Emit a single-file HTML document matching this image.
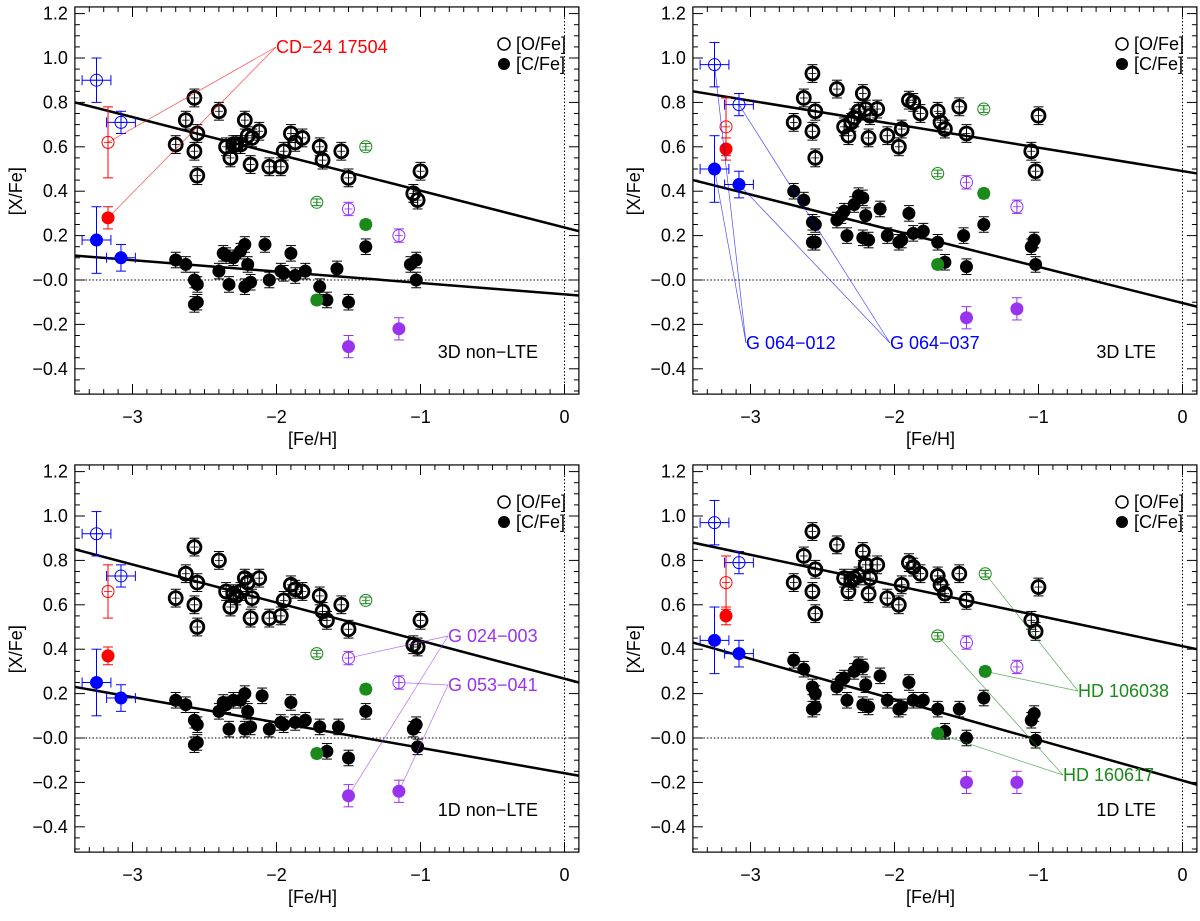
<!DOCTYPE html>
<html><head><meta charset="utf-8"><style>
body{margin:0;background:#fff}
svg text{font-family:"Liberation Sans",Arial,sans-serif}
</style></head><body>
<svg id="chart" width="1200" height="916" viewBox="0 0 1200 916" xmlns="http://www.w3.org/2000/svg"></svg>
<script>
// panel titles
const panelTitles = ["3D non-LTE","3D LTE","1D non-LTE","1D LTE"];
// O/Fe black stars [feh, value]
const oBlack = [
[[-2.70,0.61],[-2.63,0.72],[-2.57,0.82],[-2.57,0.58],[-2.55,0.47],[-2.55,0.66],[-2.40,0.76],[-2.35,0.60],[-2.32,0.55],[-2.30,0.61],[-2.28,0.61],[-2.25,0.61],[-2.22,0.72],[-2.20,0.65],[-2.18,0.52],[-2.17,0.64],[-2.12,0.67],[-2.05,0.51],[-1.97,0.51],[-1.95,0.58],[-1.90,0.66],[-1.87,0.62],[-1.82,0.64],[-1.70,0.60],[-1.68,0.54],[-1.55,0.58],[-1.50,0.46],[-1.05,0.39],[-1.02,0.36],[-1.00,0.49]],
[[-2.70,0.71],[-2.63,0.82],[-2.57,0.93],[-2.57,0.67],[-2.55,0.55],[-2.55,0.76],[-2.40,0.86],[-2.35,0.69],[-2.32,0.65],[-2.30,0.71],[-2.28,0.73],[-2.25,0.76],[-2.22,0.84],[-2.20,0.77],[-2.18,0.64],[-2.17,0.74],[-2.12,0.77],[-2.05,0.65],[-1.97,0.60],[-1.95,0.68],[-1.90,0.81],[-1.87,0.80],[-1.82,0.75],[-1.70,0.76],[-1.68,0.71],[-1.65,0.68],[-1.55,0.78],[-1.50,0.66],[-1.05,0.58],[-1.02,0.49],[-1.00,0.74]],
[[-2.70,0.63],[-2.63,0.74],[-2.57,0.86],[-2.57,0.60],[-2.55,0.50],[-2.55,0.70],[-2.40,0.80],[-2.35,0.66],[-2.32,0.59],[-2.30,0.65],[-2.28,0.64],[-2.25,0.66],[-2.22,0.72],[-2.20,0.70],[-2.18,0.54],[-2.17,0.63],[-2.12,0.72],[-2.05,0.54],[-1.97,0.55],[-1.95,0.62],[-1.90,0.69],[-1.87,0.67],[-1.82,0.66],[-1.70,0.64],[-1.68,0.57],[-1.65,0.53],[-1.55,0.60],[-1.50,0.49],[-1.05,0.42],[-1.02,0.41],[-1.00,0.53]],
[[-2.70,0.70],[-2.63,0.82],[-2.57,0.93],[-2.57,0.66],[-2.55,0.56],[-2.55,0.76],[-2.40,0.87],[-2.35,0.72],[-2.32,0.66],[-2.30,0.71],[-2.28,0.72],[-2.25,0.73],[-2.22,0.84],[-2.20,0.78],[-2.18,0.65],[-2.17,0.72],[-2.12,0.78],[-2.05,0.63],[-1.97,0.60],[-1.95,0.69],[-1.90,0.79],[-1.87,0.77],[-1.82,0.74],[-1.70,0.73],[-1.68,0.69],[-1.65,0.65],[-1.55,0.74],[-1.50,0.62],[-1.05,0.53],[-1.02,0.48],[-1.00,0.68]]
];
const cBlack = [
[[-2.70,0.09],[-2.63,0.07],[-2.57,0.00],[-2.55,-0.02],[-2.57,-0.11],[-2.55,-0.10],[-2.40,0.04],[-2.37,0.12],[-2.35,0.11],[-2.33,-0.02],[-2.30,0.10],[-2.25,0.13],[-2.22,0.16],[-2.20,0.07],[-2.22,-0.03],[-2.18,-0.01],[-2.08,0.16],[-2.05,0.00],[-1.97,0.04],[-1.95,0.03],[-1.90,0.12],[-1.87,0.02],[-1.80,0.04],[-1.70,-0.03],[-1.65,-0.09],[-1.58,0.05],[-1.50,-0.10],[-1.38,0.15],[-1.07,0.07],[-1.03,0.09],[-1.03,0.00]],
[[-2.70,0.40],[-2.63,0.36],[-2.57,0.26],[-2.55,0.25],[-2.57,0.17],[-2.55,0.17],[-2.40,0.27],[-2.37,0.29],[-2.35,0.31],[-2.33,0.20],[-2.28,0.34],[-2.25,0.38],[-2.22,0.37],[-2.20,0.29],[-2.22,0.19],[-2.18,0.18],[-2.10,0.32],[-2.05,0.20],[-1.97,0.17],[-1.95,0.18],[-1.90,0.30],[-1.87,0.21],[-1.80,0.22],[-1.70,0.17],[-1.65,0.08],[-1.52,0.20],[-1.50,0.06],[-1.38,0.25],[-1.05,0.15],[-1.03,0.18],[-1.02,0.07]],
[[-2.70,0.17],[-2.63,0.15],[-2.57,0.08],[-2.55,0.06],[-2.57,-0.03],[-2.55,-0.02],[-2.40,0.12],[-2.37,0.16],[-2.35,0.15],[-2.33,0.04],[-2.30,0.17],[-2.25,0.17],[-2.22,0.20],[-2.20,0.12],[-2.22,0.04],[-2.18,0.05],[-2.10,0.19],[-2.05,0.04],[-1.97,0.07],[-1.95,0.06],[-1.90,0.16],[-1.87,0.07],[-1.80,0.08],[-1.70,0.05],[-1.65,-0.06],[-1.57,0.05],[-1.50,-0.09],[-1.38,0.12],[-1.05,0.04],[-1.03,0.06],[-1.02,-0.04]],
[[-2.70,0.35],[-2.63,0.31],[-2.57,0.23],[-2.55,0.20],[-2.57,0.13],[-2.55,0.14],[-2.40,0.23],[-2.37,0.26],[-2.35,0.27],[-2.33,0.17],[-2.28,0.30],[-2.25,0.33],[-2.22,0.32],[-2.20,0.24],[-2.22,0.15],[-2.18,0.14],[-2.10,0.28],[-2.05,0.17],[-1.97,0.13],[-1.95,0.14],[-1.90,0.25],[-1.87,0.17],[-1.80,0.17],[-1.70,0.13],[-1.65,0.03],[-1.55,0.13],[-1.50,0.00],[-1.38,0.18],[-1.05,0.08],[-1.03,0.11],[-1.02,-0.01]]
];
// highlighted stars: [feh, O, C, oErr, cErr]
const blueStars = [
[[-3.25,0.90,0.18,0.10,0.15],[-3.08,0.71,0.10,0.05,0.06]],
[[-3.25,0.97,0.50,0.10,0.15],[-3.08,0.79,0.43,0.05,0.06]],
[[-3.25,0.92,0.25,0.10,0.15],[-3.08,0.73,0.18,0.05,0.06]],
[[-3.25,0.97,0.44,0.10,0.15],[-3.08,0.79,0.38,0.05,0.06]]
];
const redStars = [[[-3.17,0.62,0.28,0.16,0.05]],[[-3.17,0.69,0.59,0.13,0.05]],[[-3.17,0.66,0.37,0.12,0.04]],[[-3.17,0.70,0.55,0.12,0.04]]];
const greenStars = [
[[-1.72,0.35,-0.09],[-1.38,0.60,0.25]],
[[-1.70,0.48,0.07],[-1.38,0.77,0.39]],
[[-1.72,0.38,-0.07],[-1.38,0.62,0.22]],
[[-1.70,0.46,0.02],[-1.37,0.74,0.30]]
];
const purpleStars = [
[[-1.50,0.32,-0.30],[-1.15,0.20,-0.22]],
[[-1.50,0.44,-0.17],[-1.15,0.33,-0.13]],
[[-1.50,0.36,-0.26],[-1.15,0.25,-0.24]],
[[-1.50,0.43,-0.20],[-1.15,0.32,-0.20]]
];
// fit lines: [value at -3.4, value at 0.1]
const oFit = [[0.80,0.22],[0.85,0.48],[0.85,0.25],[0.88,0.40]];
const cFit = [[0.11,-0.07],[0.45,-0.12],[0.23,-0.17],[0.43,-0.21]];
const xTicks = [-3,-2,-1,0];
const yTicks = [1.2,1.0,0.8,0.6,0.4,0.2,0.0,-0.2,-0.4];

const svg = document.getElementById('chart');
const NS = 'http://www.w3.org/2000/svg';
function mk(tag, attrs, parent){const e=document.createElementNS(NS,tag);for(const k in attrs)e.setAttribute(k,attrs[k]);(parent||svg).appendChild(e);return e;}
const offs = [[0,0],[618,0],[0,458],[618,458]];
const COL = {black:'#000',blue:'#0000ff',red:'#ff0000',green:'#1a8a1a',purple:'#a020f0'};
const FS = 18;

offs.forEach((o,p)=>{
  const g = mk('g',{});
  
  
  const X = v => o[0] + 132.5 + (v + 3) * 144;
  const Y = v => o[1] + 280 - v * 222;
  const L = X(-3.4), R = X(0.1), T = Y(1.23), B = Y(-0.514);
  mk('line',{x1:L,x2:R,y1:Y(0),y2:Y(0),stroke:'#000','stroke-width':1,'stroke-dasharray':'1.5,2'},g);
  mk('line',{x1:X(0),x2:X(0),y1:T,y2:B,stroke:'#000','stroke-width':1,'stroke-dasharray':'1.5,2'},g);
  const fr = mk('rect',{x:L,y:T,width:R-L,height:B-T,fill:'none',stroke:'#000','stroke-width':1.2},g);
  
  
  for(let v=-3.4;v<=0.1001;v+=0.1){const x=X(v);const major=Math.abs(v-Math.round(v))<0.01;const len=major?10:5;
    mk('line',{x1:x,x2:x,y1:B,y2:B-len,stroke:'#000','stroke-width':1},g);
    mk('line',{x1:x,x2:x,y1:T,y2:T+len,stroke:'#000','stroke-width':1},g);}
  for(let v=-0.5;v<=1.2001;v+=0.05){const y=Y(v);const major=Math.abs(v*5-Math.round(v*5))<0.01;const len=major?10:5;
    mk('line',{x1:L,x2:L+len,y1:y,y2:y,stroke:'#000','stroke-width':1},g);
    mk('line',{x1:R,x2:R-len,y1:y,y2:y,stroke:'#000','stroke-width':1},g);}
  xTicks.forEach(v=>{const t=mk('text',{x:X(v),y:B+29,'font-size':FS,'text-anchor':'middle'},g);t.textContent=v<0?'\u2212'+Math.abs(v):String(v);
    
    });
  yTicks.forEach(v=>{const t=mk('text',{x:L-7,y:Y(v)+6,'font-size':FS,'text-anchor':'end'},g);t.textContent=(v<=0?'\u2212':'')+Math.abs(v).toFixed(1);
    
    });
  const xt=mk('text',{x:X(-1.75),y:B+51,'font-size':FS,'text-anchor':'middle'},g);xt.textContent='[Fe/H]';
  
  
  const yt=mk('text',{x:0,y:0,'font-size':FS,'text-anchor':'middle',transform:`translate(${L-53},${Y(0.4)}) rotate(-90)`},g);yt.textContent='[X/Fe]';
  
  
  const fo=mk('line',{x1:L,y1:Y(oFit[p][0]),x2:R,y2:Y(oFit[p][1]),stroke:'#000','stroke-width':2.5},g);
  
  
  const fc=mk('line',{x1:L,y1:Y(cFit[p][0]),x2:R,y2:Y(cFit[p][1]),stroke:'#000','stroke-width':2.5},g);
  
  

  function errbar(x,v,e,col,xe){const cx=X(x);
    mk('line',{x1:cx,x2:cx,y1:Y(v+e),y2:Y(v-e),stroke:col,'stroke-width':1},g);
    mk('line',{x1:cx-5,x2:cx+5,y1:Y(v+e),y2:Y(v+e),stroke:col,'stroke-width':1},g);
    mk('line',{x1:cx-5,x2:cx+5,y1:Y(v-e),y2:Y(v-e),stroke:col,'stroke-width':1},g);
    if(xe){mk('line',{x1:X(x-xe),x2:X(x+xe),y1:Y(v),y2:Y(v),stroke:col,'stroke-width':1},g);
      mk('line',{x1:X(x-xe),x2:X(x-xe),y1:Y(v)-5,y2:Y(v)+5,stroke:col,'stroke-width':1},g);
      mk('line',{x1:X(x+xe),x2:X(x+xe),y1:Y(v)-5,y2:Y(v)+5,stroke:col,'stroke-width':1},g);}}
  function openPt(x,v,col,e,xe,sw,name){errbar(x,v,e,col,xe);
    const c=mk('circle',{cx:X(x),cy:Y(v),r:sw>2?6.5:6,fill:'none',stroke:col,'stroke-width':sw},g);
    
    
    mk('line',{x1:X(x),x2:X(x),y1:Y(v)-4,y2:Y(v)+4,stroke:col,'stroke-width':0.8},g);
    mk('line',{x1:X(x)-4,x2:X(x)+4,y1:Y(v),y2:Y(v),stroke:col,'stroke-width':0.8},g);}
  function fillPt(x,v,col,e,xe,name){errbar(x,v,e,col,xe);
    const c=mk('circle',{cx:X(x),cy:Y(v),r:6.5,fill:col},g);
    
    }

  oBlack[p].forEach(d=>openPt(d[0],d[1],COL.black,0.04,0,2.8,'oxygen-point'));
  cBlack[p].forEach(d=>fillPt(d[0],d[1],COL.black,0.035,0,'carbon-point'));
  greenStars[p].forEach(d=>{openPt(d[0],d[1],COL.green,0.015,0,1,'oxygen-point-green');fillPt(d[0],d[2],COL.green,0.02,0.03,'carbon-point-green');});
  purpleStars[p].forEach(d=>{openPt(d[0],d[1],'#9933ee',0.03,0,1,'oxygen-point-purple');fillPt(d[0],d[2],'#9933ee',0.05,0,'carbon-point-purple');});
  blueStars[p].forEach(d=>{openPt(d[0],d[1],COL.blue,d[3],0.1,1,'oxygen-point-blue');fillPt(d[0],d[2],COL.blue,d[4],0.1,'carbon-point-blue');});
  redStars[p].forEach(d=>{openPt(d[0],d[1],COL.red,d[3],0,1,'oxygen-point-red');fillPt(d[0],d[2],COL.red,d[4],0,'carbon-point-red');});

  const lg=mk('g',{},g);
  
  
  mk('circle',{cx:o[0]+504,cy:o[1]+44,r:6,fill:'none',stroke:'#000','stroke-width':1.5},lg);
  let t=mk('text',{x:o[0]+516,y:o[1]+50,'font-size':FS},lg);t.textContent='[O/Fe]';
  mk('circle',{cx:o[0]+504,cy:o[1]+64,r:6,fill:'#000'},lg);
  t=mk('text',{x:o[0]+516,y:o[1]+70,'font-size':FS},lg);t.textContent='[C/Fe]';
  const pt=mk('text',{x:o[0]+538,y:o[1]+358,'font-size':FS,'text-anchor':'end'},g);pt.textContent=panelTitles[p].replace('-','\u2212');
  
  

  function annot(tx,ty,label,col,targets,anchor){
    targets.forEach(tg=>mk('line',{x1:tx,y1:ty,x2:X(tg[0]),y2:Y(tg[1]),stroke:col,'stroke-width':0.7,opacity:0.7},g));
    const a=mk('text',{x:tx+(anchor==='start'?2:0),y:ty+6,'font-size':FS,fill:col,'text-anchor':anchor||'start'},g);a.textContent=label;
    
    }
  if(p===0) annot(o[0]+276,o[1]+47,'CD\u221224 17504',COL.red,[[redStars[0][0][0],redStars[0][0][1]],[redStars[0][0][0],redStars[0][0][2]]]);
  if(p===1){annot(o[0]+128,o[1]+343,'G 064\u2212012',COL.blue,[[blueStars[1][0][0],blueStars[1][0][1]],[blueStars[1][0][0],blueStars[1][0][2]]]);
    annot(o[0]+272,o[1]+343,'G 064\u2212037',COL.blue,[[blueStars[1][1][0],blueStars[1][1][1]],[blueStars[1][1][0],blueStars[1][1][2]]]);}
  if(p===2){annot(o[0]+448,o[1]+178,'G 024\u2212003','#9933ee',[[purpleStars[2][0][0],purpleStars[2][0][1]],[purpleStars[2][0][0],purpleStars[2][0][2]]]);
    annot(o[0]+448,o[1]+227,'G 053\u2212041','#9933ee',[[purpleStars[2][1][0],purpleStars[2][1][1]],[purpleStars[2][1][0],purpleStars[2][1][2]]]);}
  if(p===3){annot(o[0]+460,o[1]+233,'HD 106038',COL.green,[[greenStars[3][1][0],greenStars[3][1][1]],[greenStars[3][1][0],greenStars[3][1][2]]]);
    annot(o[0]+445,o[1]+317,'HD 160617',COL.green,[[greenStars[3][0][0],greenStars[3][0][1]],[greenStars[3][0][0],greenStars[3][0][2]]]);}
});
</script>
</body></html>
